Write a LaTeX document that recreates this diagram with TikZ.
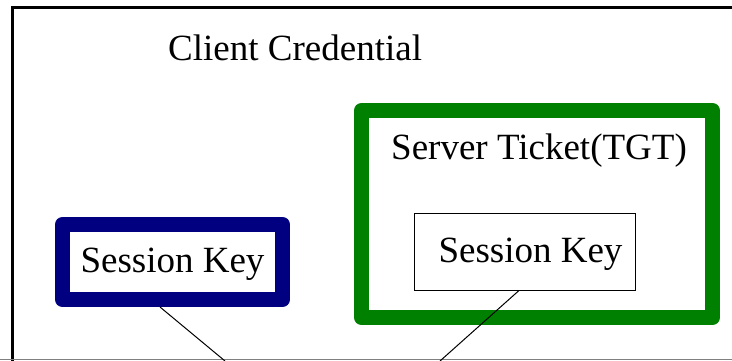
\documentclass[tikz,border=0pt]{standalone}
\usepackage{fontspec}
\setmainfont{Liberation Serif}
\usepackage{tikz}
\usetikzlibrary{calc,positioning}
\definecolor{keyblue}{RGB}{0,0,128}
\definecolor{ticketgreen}{RGB}{0,128,0}
\tikzset{
  bigtext/.style={font=\fontsize{37}{44}\selectfont},
  thickbox/.style={draw,line width=15pt,line join=round,inner sep=0pt,fill=white,bigtext},
  thinbox/.style={draw,line width=1pt,inner sep=0pt,fill=white,bigtext}
}
\begin{document}
\begin{tikzpicture}[x=1pt,y=-1pt]
  \useasboundingbox (0,0) rectangle (732,361);
  % outer credential frame
  \draw[line width=3pt] (12.5,8) rectangle (745,375);
  \draw[gray,line width=1pt] (0,359.5) -- (732,359.5);
  \node[bigtext,anchor=base west,inner sep=0pt](title)at(168,61){Client Credential};
  % client session key
  \node[thickbox,draw=keyblue,minimum width=220pt,minimum height=75pt,text depth=3pt](skclient)at(172.5,262){Session Key};
  % server ticket
  \node[thickbox,draw=ticketgreen,minimum width=351pt,minimum height=207pt](ticket)at(537,214){};
  \node[bigtext,anchor=base west,inner sep=0pt](tickettitle)at(391,160){Server Ticket(TGT)};
  \node[thinbox,minimum width=221pt,minimum height=77pt,text depth=2pt](skticket)at(524.5,251.5){\hspace*{12pt}Session Key};
  % connectors
  \coordinate (endclient) at (225,361);
  \coordinate (endticket) at (440,361);
  \draw[line width=1pt] ([xshift=-12.5pt]skclient.south) -- (endclient);
  \draw[line width=1pt] ([xshift=-5.5pt]skticket.south) -- (endticket);
\end{tikzpicture}
\end{document}
